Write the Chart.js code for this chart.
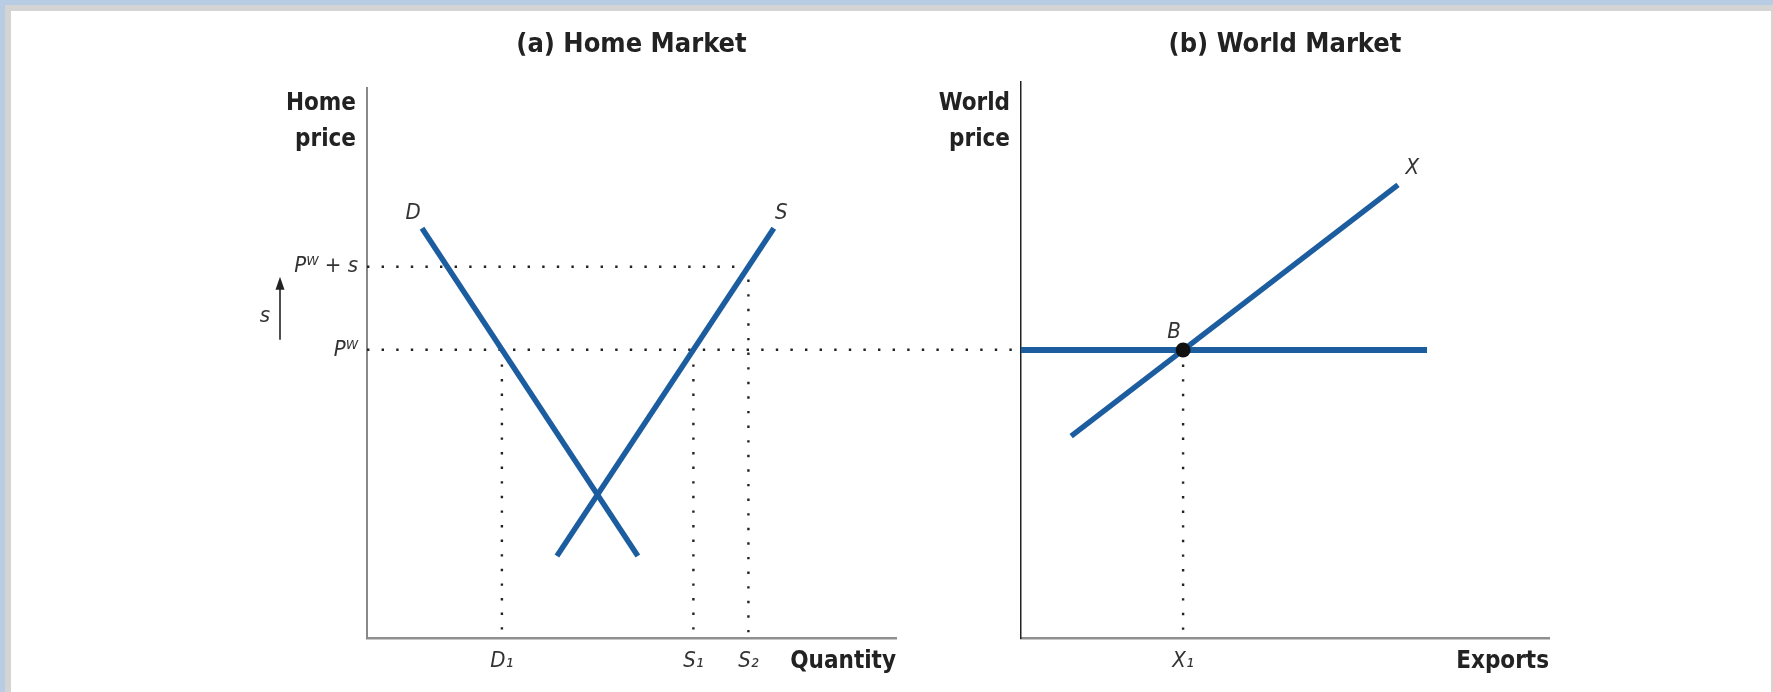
<!DOCTYPE html>
<html>
<head>
<meta charset="utf-8">
<script src="https://cdn.jsdelivr.net/npm/chart.js@4.4.1/dist/chart.umd.min.js"></script>
<style>
  body { margin: 0; width: 1773px; height: 692px; overflow: hidden; position: relative; background: #b8cce4; }
  #frame { position: absolute; left: 5px; top: 5px; right: 0; bottom: 0; background: #d4d4d4; }
  #paper { position: absolute; left: 11px; top: 11px; width: 1760px; bottom: 0; background: #fff; }
  canvas { position: absolute; left: 0; top: 0; }
</style>
</head>
<body>
<div id="frame"></div>
<div id="paper"></div>
<canvas id="homeChart" width="1773" height="692"></canvas>
<canvas id="worldChart" width="1773" height="692"></canvas>
<script>
// (a) Home market
const demandQ = [10.4, 51.2];
const demandP = [74.5, 14.9];
const supplyQ = [35.9, 76.9];
const supplyP = [14.9, 74.5];
const homePriceTicks = [52.4, 67.5];
const homePriceLabels = ['Pᵂ', 'Pᵂ + s'];
const homeQtyTicks = [25.5, 61.7, 72.1];
const homeQtyLabels = ['D₁', 'S₁', 'S₂'];
const pwGuideEnd = 123.6;   // P^W guide carries on to the world price axis
const homeLabelText = ['D', 'S'];
const homeLabelQ = [8.7, 78.3];
const homeLabelP = [77.3, 77.3];

// (b) World market
const worldPriceQ = [0, 76.9];
const worldPriceP = [51.8, 51.8];
const exportQ = [9.5, 71.4];
const exportP = [36.3, 81.5];
const pointB = [30.7, 51.8];
const exportTicks = [30.7];
const exportLabels = ['X₁'];
const worldLabelText = ['X', 'B'];
const worldLabelQ = [74.1, 29.0];
const worldLabelP = [84.5, 55.0];

const BLUE = '#1c5d9f';
const FAMILY = "'DejaVu Sans Condensed', 'DejaVu Sans', sans-serif";
const font = (style, size) => style + ' ' + size + 'px ' + FAMILY;

const pts = (xs, ys) => xs.map((x, i) => ({ x: x, y: ys[i] }));

const curve = (data) => ({
  data: data, showLine: true, borderColor: BLUE, borderWidth: 5.5,
  pointRadius: 0, borderCapStyle: 'butt'
});
const guide = (data) => ({
  data: data, showLine: true, borderColor: '#222', borderWidth: 2.4,
  borderDash: [2.4, 12.2], pointRadius: 0, clip: false
});

function axis(vals, labels, border, size, pad) {
  return {
    type: 'linear', min: 0, max: 100,
    grid: { display: false, drawTicks: false },
    border: border,
    ticks: {
      display: vals.length > 0, autoSkip: false, maxRotation: 0, padding: pad,
      color: '#333', font: { family: FAMILY, size: 22, style: 'italic' },
      callback: (v, i) => labels[i]
    },
    afterBuildTicks: (s) => { s.ticks = vals.map(v => ({ value: v })); },
    afterFit: (s) => { if (s.isHorizontal()) s.height = size; else s.width = size; }
  };
}

// text, arrows and labels around each panel
const panelText = {
  id: 'panelText',
  afterDraw(chart, args, o) {
    const { ctx, chartArea: a, scales: { x, y } } = chart;
    ctx.save();
    ctx.textBaseline = 'middle';
    ctx.fillStyle = '#222';
    ctx.font = font('bold', 27);
    ctx.textAlign = 'center';
    ctx.fillText(o.title, (a.left + a.right) / 2, 45);

    ctx.font = font('bold', 24);
    ctx.textAlign = 'right';
    o.yTitle.forEach((t, i) => ctx.fillText(t, a.left - 11, 104 + i * 36));
    ctx.fillText(o.xTitle, a.right, a.bottom + 24);

    ctx.font = font('italic', 22);
    ctx.fillStyle = '#333';
    ctx.textAlign = 'center';
    o.text.forEach((t, i) => ctx.fillText(t, x.getPixelForValue(o.q[i]), y.getPixelForValue(o.p[i])));

    if (o.arrow) {
      const ax = a.left - 87;
      const bot = y.getPixelForValue(o.arrow[0]) - 10;
      const top = y.getPixelForValue(o.arrow[1]) + 10;
      ctx.strokeStyle = '#222';
      ctx.lineWidth = 1.6;
      ctx.beginPath();
      ctx.moveTo(ax, bot);
      ctx.lineTo(ax, top + 8);
      ctx.stroke();
      ctx.fillStyle = '#222';
      ctx.beginPath();
      ctx.moveTo(ax, top);
      ctx.lineTo(ax - 4.5, top + 13);
      ctx.lineTo(ax + 4.5, top + 13);
      ctx.closePath();
      ctx.fill();
      ctx.fillStyle = '#333';
      ctx.fillText('s', ax - 15, (top + bot) / 2 + 8);
    }
    ctx.restore();
  }
};

Chart.defaults.animation = false;
Chart.defaults.devicePixelRatio = 1;

const PW = homePriceTicks[0], PWs = homePriceTicks[1];
const D1 = homeQtyTicks[0], S1 = homeQtyTicks[1], S2 = homeQtyTicks[2];

new Chart(document.getElementById('homeChart'), {
  type: 'scatter',
  data: {
    datasets: [
      curve(pts(demandQ, demandP)),
      curve(pts(supplyQ, supplyP)),
      guide(pts([0, S2, S2], [PWs, PWs, 0])),
      guide(pts([0, pwGuideEnd], [PW, PW])),
      guide(pts([D1, D1], [PW, 0])),
      guide(pts([S1, S1], [PW, 0]))
    ]
  },
  options: {
    responsive: false,
    layout: { padding: { left: 267, right: 877, top: 88, bottom: 14 } },
    scales: {
      x: axis(homeQtyTicks, homeQtyLabels, { color: '#8f8f8f', width: 2.5 }, 40, 10),
      y: axis(homePriceTicks, homePriceLabels, { color: '#888', width: 2 }, 100, 9)
    },
    plugins: {
      legend: { display: false },
      tooltip: { enabled: false },
      panelText: {
        title: '(a) Home Market', yTitle: ['Home', 'price'], xTitle: 'Quantity',
        text: homeLabelText, q: homeLabelQ, p: homeLabelP, arrow: [PW, PWs]
      }
    }
  },
  plugins: [panelText]
});

new Chart(document.getElementById('worldChart'), {
  type: 'scatter',
  data: {
    datasets: [
      { data: [{ x: pointB[0], y: pointB[1] }], pointRadius: 7.5, pointBackgroundColor: '#111',
        pointBorderWidth: 0, showLine: false },
      curve(pts(exportQ, exportP)),
      Object.assign(curve(pts(worldPriceQ, worldPriceP)), { borderWidth: 6 }),
      guide(pts([pointB[0], pointB[0]], [pointB[1], 0]))
    ]
  },
  options: {
    responsive: false,
    layout: { padding: { left: 1021, right: 224, top: 82, bottom: 14 } },
    scales: {
      x: axis(exportTicks, exportLabels, { color: '#8f8f8f', width: 2.5 }, 40, 10),
      y: axis([], [], { color: '#222', width: 1.5 }, 0, 0)
    },
    plugins: {
      legend: { display: false },
      tooltip: { enabled: false },
      panelText: {
        title: '(b) World Market', yTitle: ['World', 'price'], xTitle: 'Exports',
        text: worldLabelText, q: worldLabelQ, p: worldLabelP
      }
    }
  },
  plugins: [panelText]
});
</script>
</body>
</html>
